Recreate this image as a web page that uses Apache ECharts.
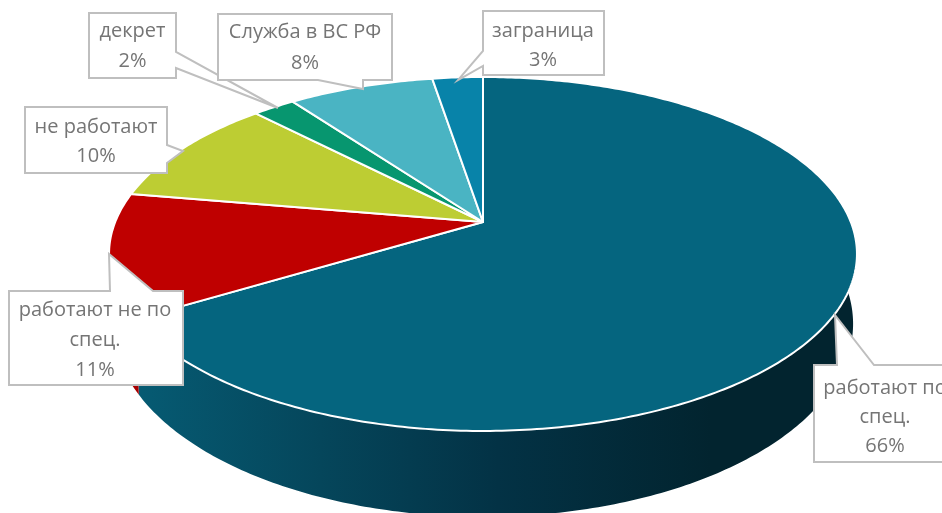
<!DOCTYPE html>
<html><head><meta charset="utf-8">
<style>html,body{margin:0;padding:0;background:#fff;overflow:hidden}#c{width:942px;height:513px}</style>
<script src="https://cdn.jsdelivr.net/npm/echarts@6/dist/echarts.min.js"></script>
</head><body><div id="c"></div>
<script>
// data
var categories = ['работают по спец.', 'работают не по спец.', 'не работают', 'декрет', 'Служба в ВС РФ', 'заграница'];
var shares = [66.4, 11.3, 10.0, 2.2, 7.5, 2.6];

// styling and layout, kept apart from the data
var topColors = ['#05657F', '#BF0000', '#BDCD33', '#07966F', '#4AB4C3', '#0883A9'];
var blueWall = {type:'linear', x:143, y:0, x2:853, y2:0, global:true, colorStops:[
  {offset:0,color:'#065A72'},{offset:0.25,color:'#05465B'},{offset:0.5,color:'#033245'},{offset:0.8,color:'#02242F'},{offset:1,color:'#02242F'}]};
var wallColors = [blueWall, '#A80000', '#8f9c26', '#057053', '#388893', '#06627f'];
var topFace = {cx:483, cy:222, a:367.8, b:171.2, k:0.1807};
var baseFace = {cx:483, cy:289, a:364, b:186.6, k:0.1807};
var callouts = [
 {i:3, lines:['декрет'], tx:132.5, ty:31, lh:30, pts:[[89,13],[176,13],[176,52],[278,108],[176,68],[176,78],[89,78]]},
 {i:4, lines:['Служба в ВС РФ'], tx:305, ty:32, lh:31, pts:[[218,14],[392,14],[392,80],[363,80],[363,89],[318,80],[218,80]]},
 {i:5, lines:['заграница'], tx:543, ty:31, lh:29, pts:[[483,11],[604,11],[604,75],[483,75],[483,66],[458,80],[483,51]]},
 {i:2, lines:['не работают'], tx:96, ty:127, lh:29, pts:[[25,107],[167,107],[167,145],[183,151],[167,163],[167,173],[25,173]]},
 {i:1, lines:['работают не по','спец.'], tx:95, ty:310, lh:30, pts:[[9,291],[110,291],[109,254],[153,291],[183,291],[183,385],[9,385]]},
 {i:0, lines:['работают по','спец.'], tx:885, ty:388, lh:29, pts:[[814,365],[837,365],[835,315],[874,365],[960,365],[960,462],[814,462]]}
];
var fontFamily = '"Open Sans", "Noto Sans", sans-serif';

var total = shares.reduce(function(s,v){return s+v;},0);
function spans(){var r=[],acc=0;shares.forEach(function(v){r.push([acc/total*360,(acc+v)/total*360]);acc+=v;});return r;}
var sp = spans();
function proj(deg,f){var t=deg*Math.PI/180,x=Math.sin(t),y=-Math.cos(t),d=1-f.k*y;return [f.cx+f.a*x/d,f.cy+f.b*y/d];}
function arc(a0,a1,f){var p=[],n=Math.max(2,Math.ceil((a1-a0)/0.75));for(var j=0;j<=n;j++)p.push(proj(a0+(a1-a0)*j/n,f));return p;}
var idx = categories.map(function(_,i){return [i];});

function wallItem(params,api){var i=api.value(0),a=arc(sp[i][0],sp[i][1],topFace),b=arc(sp[i][0],sp[i][1],baseFace).reverse();
  return {type:'polygon',shape:{points:a.concat(b)},style:{fill:wallColors[i]}};}
function topItem(params,api){var i=api.value(0),a=arc(sp[i][0],sp[i][1],topFace);
  return {type:'polygon',shape:{points:[[topFace.cx,topFace.cy]].concat(a)},style:{fill:topColors[i],stroke:'#fff',lineWidth:2,lineJoin:'round'}};}
function labelItem(params,api){var c=callouts[api.value(0)],kids=[{type:'polygon',shape:{points:c.pts},style:{fill:'#fff',stroke:'#BFBFBF',lineWidth:2}}];
  var pct=Math.round(shares[c.i]/total*100)+'%',ls=c.lines.concat([pct]);
  ls.forEach(function(t,n){kids.push({type:'text',style:{text:t,x:c.tx,y:c.ty+n*c.lh,align:'center',verticalAlign:'middle',fill:'#757575',font:'20px '+fontFamily}});});
  return {type:'group',children:kids};}

var chart = echarts.init(document.getElementById('c'));
chart.setOption({
  animation:false,
  backgroundColor:'#fff',
  series:[
    {type:'custom',coordinateSystem:'none',silent:true,z:1,renderItem:wallItem,data:idx},
    {type:'custom',coordinateSystem:'none',silent:true,z:2,renderItem:topItem,data:idx},
    {type:'custom',coordinateSystem:'none',silent:true,z:3,renderItem:labelItem,data:callouts.map(function(_,i){return [i];})}
  ]
});
</script></body></html>
